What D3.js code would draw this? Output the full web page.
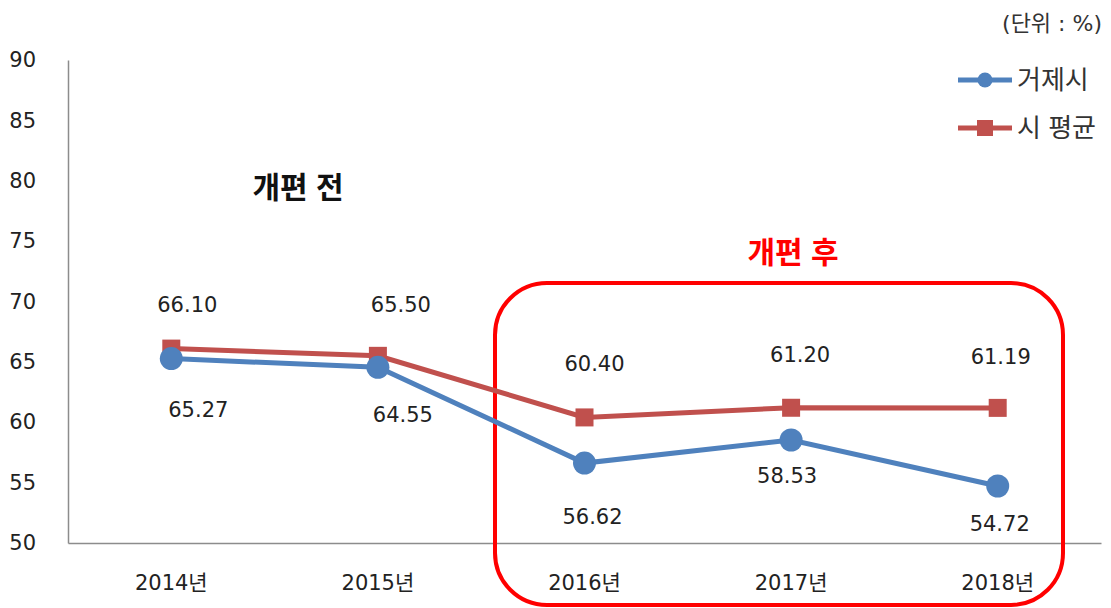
<!DOCTYPE html>
<html lang="ko">
<head>
<meta charset="UTF-8">
<title>거제시 vs 시 평균</title>
<script src="https://d3js.org/d3.v7.min.js"></script>
<style>
    body { margin: 0; background: #fff; }
    svg { display: block; font-family: "DejaVu Sans", "Noto Sans CJK KR", sans-serif; }
</style>
</head>
<body>
<svg id="chart" width="1111" height="608"></svg>
<script>
    // data
    const years = ["2014년", "2015년", "2016년", "2017년", "2018년"];
    const geoje = [65.27, 64.55, 56.62, 58.53, 54.72];
    const cityAvg = [66.10, 65.50, 60.40, 61.20, 61.19];
    const yTicks = [50, 55, 60, 65, 70, 75, 80, 85, 90];

    // label nudges (labels were hand-placed in the original chart)
    const geojeLabelDx = [27, 25, 8, -4, 2];
    const geojeLabelDy = [58, 55, 61, 43, 45];
    const avgLabelDx = [16, 23, 10, 9, 3];
    const avgLabelDy = [-37, -44, -46, -46, -44];

    const svg = d3.select("#chart");

    var x = d3.scaleBand()
        .domain(years)
        .range([68, 1101]);

    var y = d3.scaleLinear()
        .domain([50, 90])
        .range([543, 60]);

    const cx = d => x(d) + x.bandwidth() / 2;

    // axes
    const yAxis = svg.append("g")
        .attr("transform", "translate(68,0)")
        .call(d3.axisLeft(y).tickValues(yTicks).tickSize(0).tickPadding(32));
    yAxis.select(".domain").attr("stroke", "#8c8c8c").attr("stroke-width", 1.5);
    yAxis.selectAll("text")
        .attr("font-size", 21).attr("fill", "#222")
        .attr("font-family", "DejaVu Sans, Noto Sans CJK KR");

    const xAxis = svg.append("g")
        .attr("transform", "translate(0,543)")
        .call(d3.axisBottom(x).tickSize(0).tickPadding(32));
    xAxis.select(".domain").attr("stroke", "#8c8c8c").attr("stroke-width", 1.5);
    xAxis.selectAll("text")
        .attr("font-size", 21).attr("fill", "#222")
        .attr("font-family", "DejaVu Sans, Noto Sans CJK KR");

    // red rounded box for 개편 후
    svg.append("rect")
        .attr("x", 495).attr("y", 283)
        .attr("width", 568).attr("height", 322)
        .attr("rx", 52).attr("ry", 52)
        .attr("fill", "none")
        .attr("stroke", "#ff0000")
        .attr("stroke-width", 4);

    svg.append("text")
        .attr("x", 793).attr("y", 263)
        .attr("text-anchor", "middle")
        .attr("font-family", "Noto Sans CJK KR")
        .attr("font-size", 30).attr("font-weight", "bold")
        .attr("fill", "#ff0000")
        .text("개편 후");

    svg.append("text")
        .attr("x", 298).attr("y", 198)
        .attr("text-anchor", "middle")
        .attr("font-family", "Noto Sans CJK KR")
        .attr("font-size", 30).attr("font-weight", "bold")
        .attr("fill", "#111")
        .text("개편 전");

    const line = d3.line()
        .x((d, i) => cx(years[i]))
        .y(d => y(d));

    // 시 평균 (red)
    svg.append("path")
        .datum(cityAvg)
        .attr("d", line)
        .attr("fill", "none")
        .attr("stroke", "#c0504d")
        .attr("stroke-width", 5);
    svg.selectAll(".sq")
        .data(cityAvg)
        .join("rect")
        .attr("class", "sq")
        .attr("x", (d, i) => cx(years[i]) - 9)
        .attr("y", d => y(d) - 9)
        .attr("width", 18).attr("height", 18)
        .attr("fill", "#c0504d");

    // 거제시 (blue)
    svg.append("path")
        .datum(geoje)
        .attr("d", line)
        .attr("fill", "none")
        .attr("stroke", "#4f81bd")
        .attr("stroke-width", 5);
    svg.selectAll(".dot")
        .data(geoje)
        .join("circle")
        .attr("class", "dot")
        .attr("cx", (d, i) => cx(years[i]))
        .attr("cy", d => y(d))
        .attr("r", 11.5)
        .attr("fill", "#4f81bd");

    // labels
    svg.selectAll(".lblR")
        .data(cityAvg)
        .join("text")
        .attr("class", "lblR")
        .attr("x", (d, i) => cx(years[i]) + avgLabelDx[i])
        .attr("y", (d, i) => y(d) + avgLabelDy[i])
        .attr("text-anchor", "middle")
        .attr("font-size", 21).attr("fill", "#222")
        .text(d => d.toFixed(2));

    svg.selectAll(".lblB")
        .data(geoje)
        .join("text")
        .attr("class", "lblB")
        .attr("x", (d, i) => cx(years[i]) + geojeLabelDx[i])
        .attr("y", (d, i) => y(d) + geojeLabelDy[i])
        .attr("text-anchor", "middle")
        .attr("font-size", 21).attr("fill", "#222")
        .text(d => d.toFixed(2));

    // unit + legend
    svg.append("text")
        .attr("x", 1102).attr("y", 31)
        .attr("text-anchor", "end")
        .attr("font-size", 22).attr("fill", "#333")
        .text("(단위 : %)");

    const legend = svg.append("g").attr("transform", "translate(958,80)");
    legend.append("line").attr("x1", 0).attr("x2", 54).attr("y1", 0).attr("y2", 0)
        .attr("stroke", "#4f81bd").attr("stroke-width", 5);
    legend.append("circle").attr("cx", 27).attr("cy", 0).attr("r", 7.5).attr("fill", "#4f81bd");
    legend.append("text").attr("x", 59).attr("y", 9)
        .attr("font-family", "Noto Sans CJK KR")
        .attr("font-size", 26).attr("fill", "#333").text("거제시");

    legend.append("line").attr("x1", 0).attr("x2", 54).attr("y1", 48).attr("y2", 48)
        .attr("stroke", "#c0504d").attr("stroke-width", 5);
    legend.append("rect").attr("x", 19).attr("y", 40).attr("width", 16).attr("height", 16).attr("fill", "#c0504d");
    legend.append("text").attr("x", 59).attr("y", 57)
        .attr("font-family", "Noto Sans CJK KR")
        .attr("font-size", 26).attr("fill", "#333").text("시 평균");
</script>
</body>
</html>
